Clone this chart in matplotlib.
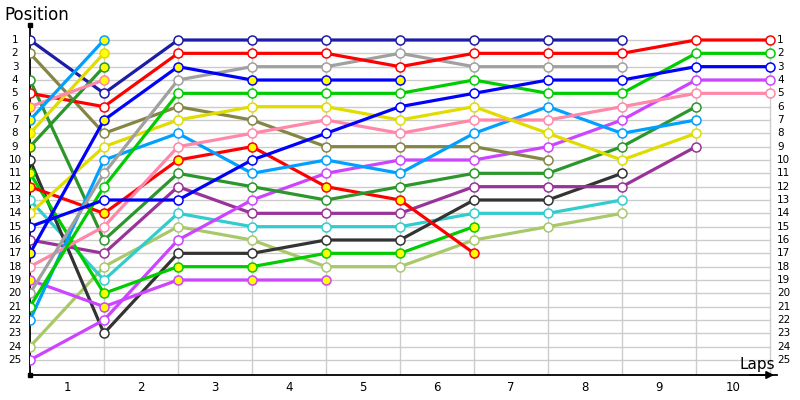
import matplotlib
matplotlib.use('Agg')
import matplotlib.pyplot as plt
import matplotlib.transforms as mtransforms

# lap chart data: positions from lap 0 (grid) onward, one list per car
navy = [1, 5, 1, 1, 1, 1, 1, 1, 1]
olive = [2, 8, 6, 7, 9, 9, 9, 10]
dkgreen_a = [4, 16, 11, 12, 13, 12, 11, 11, 9, 6]
red_a = [5, 6, 2, 2, 2, 3, 2, 2, 2, 1, 1]
pink_b = [6, 4]
ltblue_b = [7, 1]
yellow_b = [8, 2]
dkgreen_b = [9, 3]
black = [10, 23, 17, 17, 16, 16, 13, 13, 11]
green_b = [11, 20, 18, 18, 17, 17, 15]
red_b = [12, 14, 10, 9, 12, 13, 17]
cyan = [13, 19, 14, 15, 15, 15, 14, 14, 13]
yellow_a = [14, 9, 7, 6, 6, 7, 6, 8, 10, 8]
blue_a = [15, 13, 13, 10, 8, 6, 5, 4, 4, 3, 3]
purple = [16, 17, 12, 14, 14, 14, 12, 12, 12, 9]
blue_b = [17, 7, 3, 4, 4, 4]
pink_a = [18, 15, 9, 8, 7, 8, 7, 7, 6, 5, 5]
magenta_b = [19, 21, 19, 19, 19]
gray = [20, 11, 4, 3, 3, 2, 3, 3, 3]
green_a = [21, 12, 5, 5, 5, 5, 4, 5, 5, 2, 2]
ltblue_a = [22, 10, 8, 11, 10, 11, 8, 6, 8, 7]
ygreen = [24, 18, 15, 16, 18, 18, 16, 15, 14]
magenta_a = [25, 22, 16, 13, 11, 10, 10, 9, 7, 4, 4]

# (positions, colour, yellow-filled marker)
cars = [
    (ygreen, '#a8c86a', False),
    (cyan, '#33cccc', False),
    (black, '#333333', False),
    (purple, '#993399', False),
    (magenta_b, '#cc44ff', True),
    (magenta_a, '#cc44ff', False),
    (green_b, '#00cc00', True),
    (red_b, '#ff0000', True),
    (dkgreen_a, '#2b962b', False),
    (olive, '#858545', False),
    (ltblue_a, '#00a0ff', False),
    (pink_a, '#ff88aa', False),
    (yellow_a, '#e0dc00', False),
    (gray, '#a0a0a0', False),
    (green_a, '#00cc00', False),
    (blue_b, '#0000ff', True),
    (blue_a, '#0000ff', False),
    (red_a, '#ff0000', False),
    (navy, '#1c1ca8', False),
    (dkgreen_b, '#2b962b', True),
    (yellow_b, '#e0dc00', True),
    (pink_b, '#ff88aa', True),
    (ltblue_b, '#00a0ff', True),
]

n_laps = 10
n_pos = 25
lap_labels = [str(i) for i in range(1, n_laps + 1)]

fig = plt.figure(figsize=(8, 4), dpi=100)
ax = fig.add_axes([30 / 800, 25 / 400, 747 / 800, 350 / 400])
ax.set_xlim(0, 747 / 74.0)
y_bottom = 25 + 15 / 13.33
y_top = 1 - 15 / 13.33
ax.set_ylim(y_bottom, y_top)

# grid
for p in range(1, n_pos + 1):
    ax.plot([0, n_laps], [p, p], color='#cccccc', lw=1, zorder=1)
for lap in range(1, n_laps + 1):
    ax.plot([lap, lap], [1, y_bottom], color='#cccccc', lw=1, zorder=1)

for pos, col, second in cars:
    laps = list(range(len(pos)))
    ax.plot(laps, pos, color=col, lw=2.3, zorder=3, solid_capstyle='round',
            marker='o', markersize=6.5, markeredgewidth=1.1,
            markeredgecolor=col, markerfacecolor='#ffff00' if second else 'white')

for s in ['top', 'right']:
    ax.spines[s].set_visible(False)
ax.spines['left'].set_linewidth(1.3)
ax.spines['bottom'].set_linewidth(1.3)
ax.annotate('', xy=(1.0, 0), xytext=(0.96, 0), xycoords='axes fraction',
            arrowprops=dict(arrowstyle='-|>', color='black', lw=1.3,
                            mutation_scale=11))
ax.plot([0, 0], [y_top, y_bottom], 's', color='black',
        markersize=3, clip_on=False, zorder=5)

ax.set_xticks([i - 0.5 for i in range(1, n_laps + 1)])
ax.set_xticklabels(lap_labels, fontsize=8.5)
ax.tick_params(axis='x', length=0, pad=4)
ax.set_yticks([])

left_off = mtransforms.offset_copy(ax.transData, fig=fig, x=-15, y=0, units='dots')
right_off = mtransforms.offset_copy(ax.transData, fig=fig, x=7, y=0, units='dots')
for p in range(1, n_pos + 1):
    ax.text(0, p, str(p), transform=left_off, ha='center', va='center', fontsize=7.5)
    ax.text(n_laps, p, str(p), transform=right_off, ha='left', va='center', fontsize=7.5)

fig.text(4 / 800, 1 - 15 / 400, 'Position', fontsize=12, ha='left', va='center')
fig.text(775 / 800, 1 - 364 / 400, 'Laps', fontsize=11, ha='right', va='center')

fig.savefig('out.png', dpi=100)
